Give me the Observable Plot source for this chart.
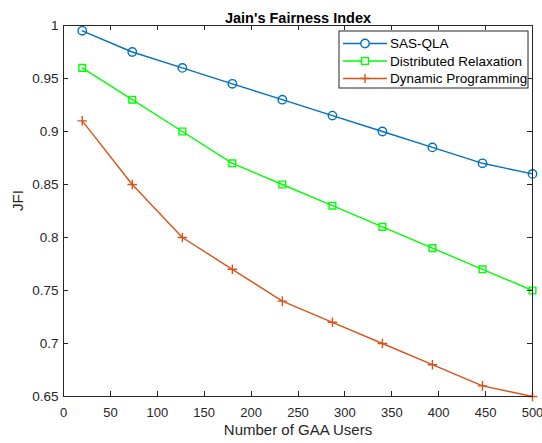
<!DOCTYPE html>
<html><head><meta charset="utf-8">
<script src="https://cdn.jsdelivr.net/npm/d3@7"></script>
<script src="https://cdn.jsdelivr.net/npm/@observablehq/plot@0.6"></script>
<style>html,body{margin:0;padding:0;background:#fff}svg{display:block}</style>
</head><body><div id="chart"></div>
<script>
const users = [20, 73.3, 126.7, 180, 233.3, 286.7, 340, 393.3, 446.7, 500];
const sasQla = [0.995, 0.975, 0.96, 0.945, 0.93, 0.915, 0.90, 0.885, 0.87, 0.86];
const distRelax = [0.96, 0.93, 0.90, 0.87, 0.85, 0.83, 0.81, 0.79, 0.77, 0.75];
const dynProg = [0.91, 0.85, 0.80, 0.77, 0.74, 0.72, 0.70, 0.68, 0.66, 0.65];
const seriesNames = ["SAS-QLA", "Distributed Relaxation", "Dynamic Programming"];
const seriesColors = ["#0072BD", "#00FF00", "#D95319"];
const seriesSymbols = ["circle", "square", "plus"];
const xTicks = [0, 50, 100, 150, 200, 250, 300, 350, 400, 450, 500];
const yTicks = [0.65, 0.7, 0.75, 0.8, 0.85, 0.9, 0.95, 1];
const yTickLabels = ["0.65", "0.7", "0.75", "0.8", "0.85", "0.9", "0.95", "1"];
const titleText = "Jain's Fairness Index";
const xLabel = "Number of GAA Users";
const yLabel = "JFI";

const allSeries = [sasQla, distRelax, dynProg];
const rows = allSeries.flatMap((vals, i) => vals.map((v, j) => ({x: users[j], y: v, s: seriesNames[i]})));
const axisColor = "#262626";
const font = "'Liberation Sans', Arial, Helvetica, sans-serif";

const W = 542, H = 443, mL = 63, mR = 10, mT = 25, mB = 47;
const tk = 5;

const marks = [];
seriesNames.forEach((name, i) => {
  const d = rows.filter(r => r.s === name);
  marks.push(Plot.line(d, {x: "x", y: "y", stroke: seriesColors[i], strokeWidth: 1.4}));
  marks.push(Plot.dot(d, {x: "x", y: "y", stroke: seriesColors[i], fill: "none", symbol: seriesSymbols[i],
    r: i === 0 ? 4.2 : (i === 1 ? 3.8 : 3.2), strokeWidth: 1.4}));
});

const chart = Plot.plot({
  width: W, height: H,
  marginLeft: mL, marginRight: mR, marginTop: mT, marginBottom: mB,
  style: {fontFamily: font, fontSize: "13px", color: axisColor, background: "#fff"},
  x: {domain: [0, 500]},
  y: {domain: [0.65, 1]},
  marks: [
    ...marks,
    Plot.frame({stroke: axisColor, strokeWidth: 1}),
    Plot.axisX(xTicks, {anchor: "bottom", tickSize: 0, tickPadding: 11, label: null, fontSize: 13, fill: axisColor}),
    Plot.axisY(yTicks, {anchor: "left", tickSize: 0, tickPadding: 5, label: null, fontSize: 13.5, fill: axisColor,
      tickFormat: (d) => yTickLabels[yTicks.indexOf(d)]}),
    Plot.text([titleText], {frameAnchor: "top", dy: -13, fontWeight: "bold", fontSize: 14.5, fill: "#000"}),
    Plot.text([xLabel], {frameAnchor: "bottom", dy: 38, fontSize: 15, fill: axisColor}),
    Plot.text([yLabel], {frameAnchor: "left", dx: -45, rotate: -90, fontSize: 15, fill: axisColor})
  ]
});
document.getElementById("chart").appendChild(chart);

const svg = d3.select(chart.tagName.toLowerCase() === "svg" ? chart : chart.querySelector("svg"));
const sx = chart.scale("x"), sy = chart.scale("y");
const x0 = mL, x1 = W - mR, y0 = mT, y1 = H - mB;

// inward ticks on all four sides, placed through Plot's own scales
const tg = svg.append("g").attr("stroke", axisColor).attr("stroke-width", 1).attr("fill", "none");
xTicks.forEach(t => {
  const px = Math.round(sx.apply(t)) + 0.5;
  tg.append("path").attr("d", `M${px},${y1}V${y1 - tk}M${px},${y0}V${y0 + tk}`);
});
yTicks.forEach(t => {
  const py = Math.round(sy.apply(t)) + 0.5;
  tg.append("path").attr("d", `M${x0},${py}H${x0 + tk}M${x1},${py}H${x1 - tk}`);
});

// legend box inside the plot area (top-right)
const lg = svg.append("g").attr("transform", "translate(339,31)").attr("text-anchor", "start");
lg.append("rect").attr("width", 189).attr("height", 57).attr("fill", "#fff").attr("stroke", axisColor).attr("stroke-width", 1);
seriesNames.forEach((name, i) => {
  const yy = 12.5 + i * 17.5;
  const g = lg.append("g").attr("transform", `translate(0,${yy})`);
  g.append("line").attr("x1", 4).attr("x2", 48).attr("y1", 0).attr("y2", 0).attr("stroke", seriesColors[i]).attr("stroke-width", 1.4);
  const cx = 26;
  if (seriesSymbols[i] === "circle") {
    g.append("circle").attr("cx", cx).attr("cy", 0).attr("r", 4.2).attr("fill", "#fff").attr("stroke", seriesColors[i]).attr("stroke-width", 1.4);
  } else if (seriesSymbols[i] === "square") {
    g.append("rect").attr("x", cx - 3.4).attr("y", -3.4).attr("width", 6.8).attr("height", 6.8).attr("fill", "#fff").attr("stroke", seriesColors[i]).attr("stroke-width", 1.4);
  } else {
    g.append("path").attr("d", `M${cx - 4.5},0H${cx + 4.5}M${cx},-4.5V4.5`).attr("stroke", seriesColors[i]).attr("stroke-width", 1.4);
  }
  g.append("text").attr("x", 51).attr("y", 0).attr("dy", "0.35em").attr("font-size", 13.5).attr("fill", "#000").attr("text-anchor", "start").text(name);
});
</script>
</body></html>
